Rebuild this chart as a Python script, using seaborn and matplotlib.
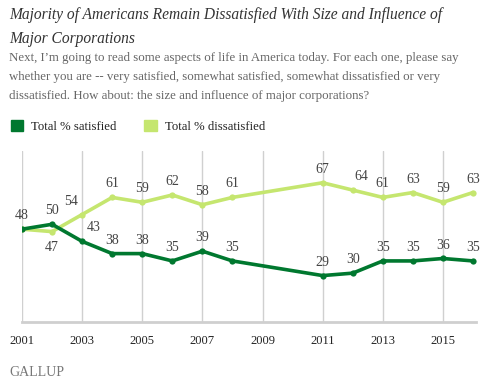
import matplotlib
matplotlib.use("Agg")
import matplotlib.pyplot as plt
from matplotlib.patches import Patch
import seaborn as sns
import pandas as pd

years = [2001, 2002, 2003, 2004, 2005, 2006, 2007, 2008, 2011, 2012, 2013, 2014, 2015, 2016]
satisfied = [48, 50, 43, 38, 38, 35, 39, 35, 29, 30, 35, 35, 36, 35]
dissatisfied = [48, 47, 54, 61, 59, 62, 58, 61, 67, 64, 61, 63, 59, 63]
tick_years = [2001, 2003, 2005, 2007, 2009, 2011, 2013, 2015]
series_names = ["Total % satisfied", "Total % dissatisfied"]

dark_green = "#00782f"
light_green = "#c5e66f"

df = pd.concat([
    pd.DataFrame({"year": years, "pct": satisfied, "series": series_names[0]}),
    pd.DataFrame({"year": years, "pct": dissatisfied, "series": series_names[1]}),
])

sns.set_style("white")
plt.rcParams["font.family"] = ["Liberation Serif", "DejaVu Serif"]

fig = plt.figure(figsize=(4.96, 3.83), dpi=100)
ax = fig.add_axes([22 / 496, 1 - 322 / 383, 454 / 496, 171 / 383])

sns.lineplot(data=df, x="year", y="pct", hue="series", hue_order=series_names[::-1],
             palette={series_names[0]: dark_green, series_names[1]: light_green},
             marker="o", markersize=4.5, markeredgewidth=0, linewidth=2.6,
             legend=False, ax=ax)

ax.set_xlim(2001, 2016.1)
ax.set_ylim(10, 80)
ax.set_xticks(tick_years)
ax.set_xticklabels([str(y) for y in tick_years], fontsize=9, color="#222")
ax.tick_params(axis="x", length=0, pad=9)
ax.set_yticks([])
ax.set_xlabel("")
ax.set_ylabel("")
for y in tick_years:
    ax.axvline(y, color="#d0d0d0", lw=1, zorder=0)
for s in ["top", "right", "left"]:
    ax.spines[s].set_visible(False)
ax.spines["bottom"].set_color("#cfcfcf")
ax.spines["bottom"].set_linewidth(2)
ax.patch.set_alpha(0)

lab = dict(fontsize=10, color="#444", ha="center", va="bottom")
# data labels
for i, (yr, s, d) in enumerate(zip(years, satisfied, dissatisfied)):
    if yr == 2001:
        ax.annotate(str(s), (yr, s), xytext=(0, 5), textcoords="offset points", **lab)
        continue
    sdx, sdy = 0, 5
    ddx, ddy = 0, 5
    if yr == 2003:
        sdx, ddx = 8, -8
    if yr == 2012:
        ddx = 6
    ax.annotate(str(s), (yr, s), xytext=(sdx, sdy), textcoords="offset points", **lab)
    if yr == 2002:
        ax.annotate(str(d), (yr, d), xytext=(0, -7), textcoords="offset points",
                    fontsize=10, color="#444", ha="center", va="top")
    else:
        ax.annotate(str(d), (yr, d), xytext=(ddx, ddy), textcoords="offset points", **lab)

fig.text(9 / 496, 1 - 7 / 383,
         "Majority of Americans Remain Dissatisfied With Size and Influence of\nMajor Corporations",
         fontsize=11.2, style="italic", color="#333", va="top", ha="left", linespacing=1.65)
fig.text(9 / 496, 1 - 52 / 383,
         "Next, I\u2019m going to read some aspects of life in America today. For each one, please say\n"
         "whether you are -- very satisfied, somewhat satisfied, somewhat dissatisfied or very\n"
         "dissatisfied. How about: the size and influence of major corporations?",
         fontsize=9.3, color="#666", va="top", ha="left", linespacing=1.75)

handles = [Patch(color=dark_green), Patch(color=light_green)]
fig.legend(handles, series_names, loc="upper left", bbox_to_anchor=(-1 / 496, 1 - 108 / 383),
           ncol=2, frameon=False, fontsize=9.2, handlelength=1.0, handleheight=1.0,
           handletextpad=0.6, columnspacing=2.2, labelcolor="#222")

fig.text(9 / 496, 1 - 372 / 383, "GALLUP", fontsize=10, color="#777", va="center", ha="left")

fig.savefig("out.png", dpi=100)
